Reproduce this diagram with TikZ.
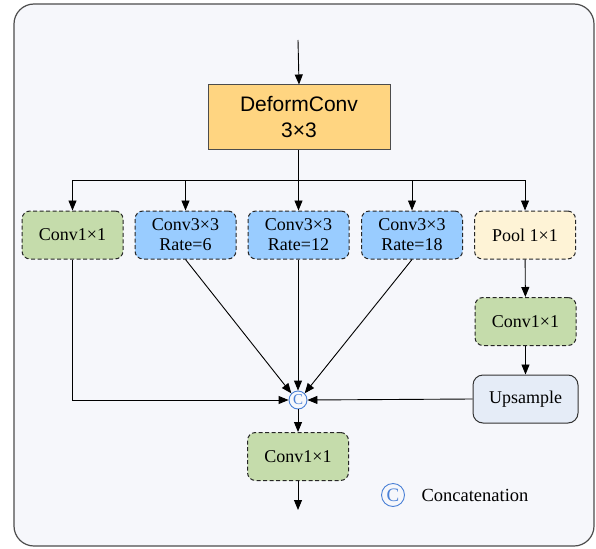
\documentclass[tikz,border=0pt]{standalone}
\usepackage{fontspec}
\setmainfont{Liberation Serif}
\newfontfamily\arialfont{Liberation Sans}
\usetikzlibrary{arrows.meta}
\definecolor{framefill}{HTML}{F6F7FB}
\definecolor{deformfill}{HTML}{FFD581}
\definecolor{greenfill}{HTML}{C5DCAB}
\definecolor{bluefill}{HTML}{99CCFF}
\definecolor{poolfill}{HTML}{FEF3D6}
\definecolor{upfill}{HTML}{E5ECF7}
\definecolor{catblue}{HTML}{4A80D6}
\tikzset{
  px/.style={x=1pt,y=-1pt},
  conn/.style={draw=black,line width=0.9pt,-{Triangle[length=10pt,width=8pt]}},
  opbox/.style={draw=black!85,line width=1pt,dash pattern=on 4pt off 2.5pt,rounded corners=8pt,
    minimum width=101pt,minimum height=48pt,inner sep=0pt,align=center,
    font=\fontsize{18}{20}\selectfont},
  greenbox/.style={opbox,fill=greenfill},
  bluebox/.style={opbox,fill=bluefill},
  catsym/.style={circle,draw=catblue,line width=0.9pt,fill=framefill,inner sep=0pt,
    text=catblue,font=\fontsize{#1}{#1}\selectfont},
}
\begin{document}
\begin{tikzpicture}[px]
\useasboundingbox (0,0) rectangle (596,548);
% frame
\draw[draw=black!70,line width=1.2pt,fill=framefill,rounded corners=20pt] (14,4) rectangle (594,546);

% input
\coordinate (in) at (298,40);
\node[draw=black!70,line width=1pt,fill=deformfill,minimum width=182pt,minimum height=65pt,
  align=center,font=\arialfont\fontsize{21}{26}\selectfont] (deform) at (299,117.5) {DeformConv\\3×3};

% branches
\node[greenbox] (b1) at (72.5,235) {Conv1×1};
\node[bluebox] (b2) at (185.5,235) {Conv3×3\\Rate=6};
\node[bluebox] (b3) at (298.5,235) {Conv3×3\\Rate=12};
\node[bluebox] (b4) at (412,235) {Conv3×3\\Rate=18};
\node[opbox,fill=poolfill] (b5) at (525,235) {Pool 1×1};
\node[greenbox] (c5) at (525.5,321.5) {Conv1×1};
\node[draw=black!80,line width=1pt,rounded corners=10pt,fill=upfill,minimum width=105pt,
  minimum height=48pt,font=\fontsize{18}{20}\selectfont] (up) at (525.5,399) {Upsample};

% concatenation
\node[catsym=15,minimum size=18pt] (cat) at (298,400) {C};
\node[greenbox] (out) at (298,456.5) {Conv1×1};
\coordinate (outend) at (298,510);

% legend
\node[catsym=19,minimum size=23pt] (leg) at (393,495) {C};
\node[anchor=west,font=\fontsize{18.5}{20}\selectfont] (legtext) at (418,495) {Concatenation};

% connectors
\draw[conn] (in) -- (deform.north);
\coordinate (split) at (298,180);
\draw[line width=0.9pt] (deform.south -| split) -- (split);
\draw[line width=0.9pt] (split -| b1) -- (split -| b5);
\foreach \b in {b1,b2,b3,b4,b5} \draw[conn] (split -| \b) -- (\b.north);
\draw[conn] (b5) -- (c5);
\draw[conn] (c5) -- (up);
\draw[conn] (b1.south) |- (cat.west);
\draw[conn] (b2.south) -- (cat.north west);
\draw[conn] (b3.south -| cat) -- (cat.north);
\draw[conn] (b4.south) -- (cat.north east);
\draw[conn] (up.west) -- (cat.east);
\draw[conn] (cat.south) -- (out.north);
\draw[conn] (out.south) -- (outend);
\end{tikzpicture}
\end{document}
